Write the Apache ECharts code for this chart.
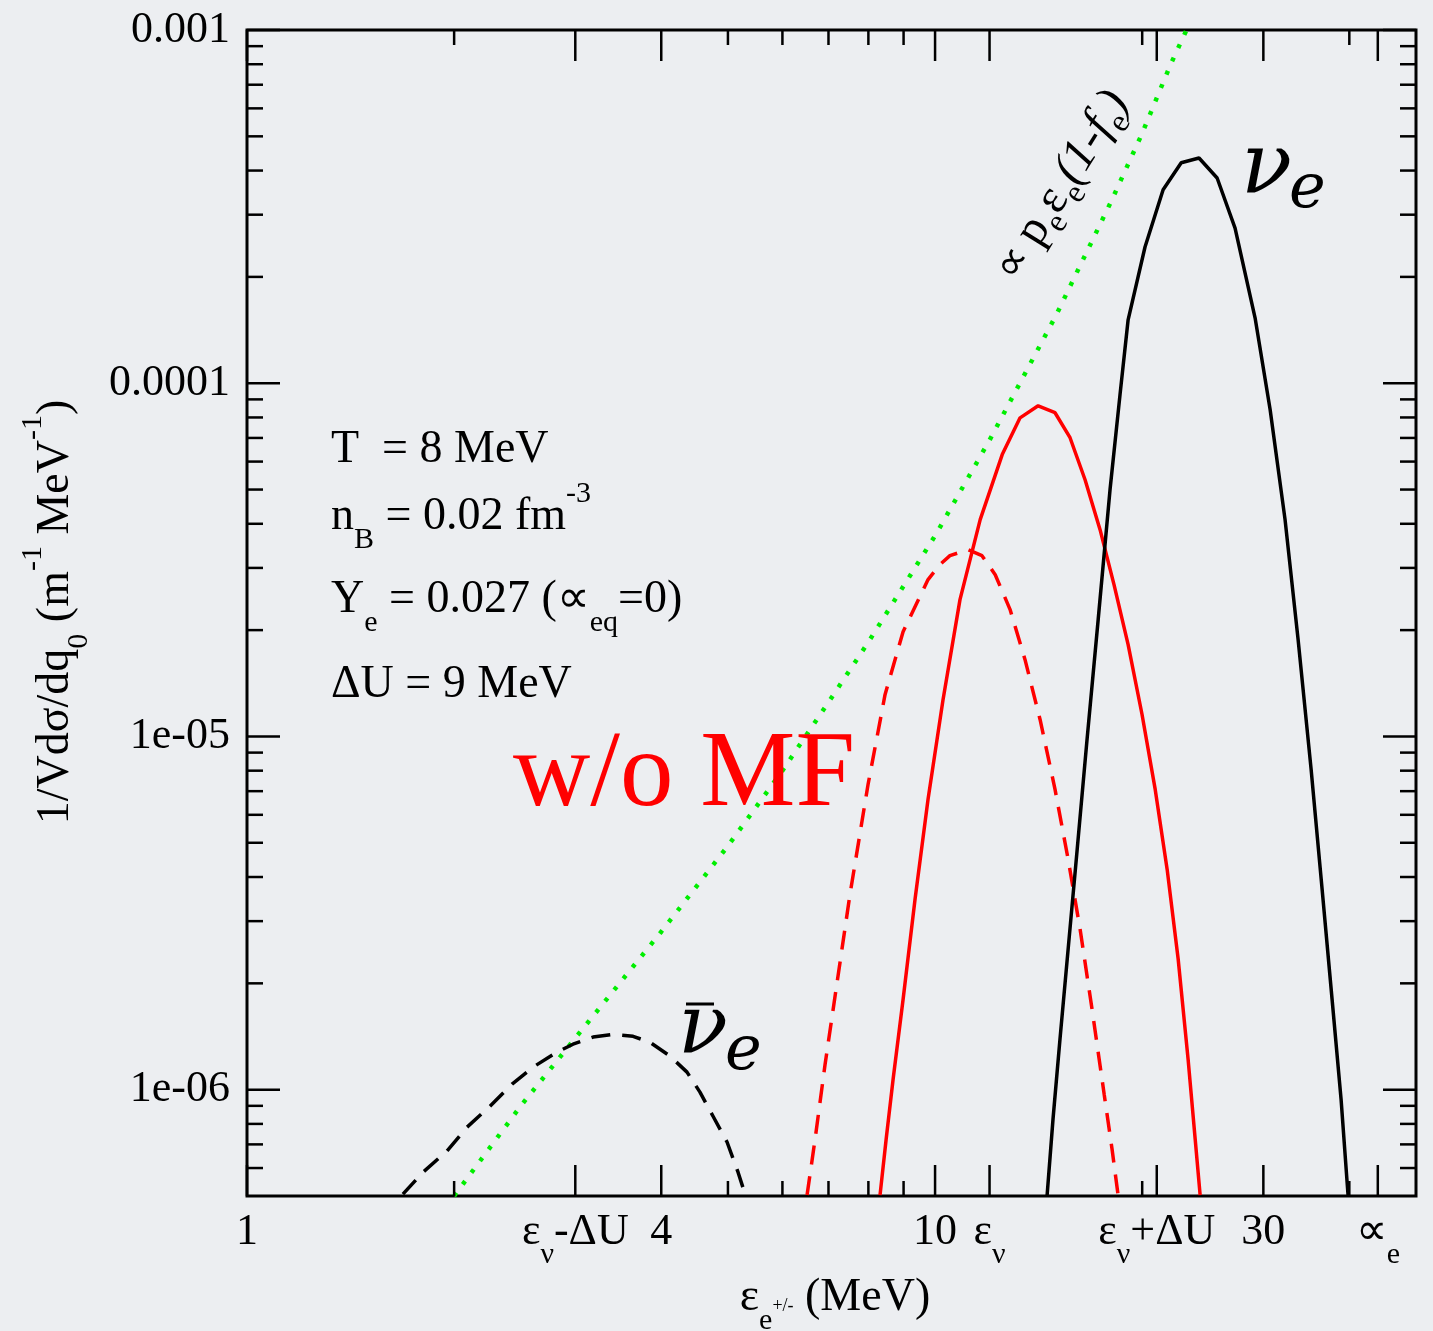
<!DOCTYPE html>
<html>
<head>
<meta charset="utf-8">
<script src="https://cdn.jsdelivr.net/npm/echarts@6/dist/echarts.min.js"></script>
<style>
html,body{margin:0;padding:0;background:#eceef1;}
#c{width:1433px;height:1331px;}
</style>
</head>
<body>
<div id="c"></div>
<script>
// ---------- axis ranges & ticks ----------
const X_MIN = 1, X_MAX = 50, Y_MIN = 5e-7, Y_MAX = 1e-3;
const xMajorTicks = [1, 3, 4, 10, 12, 21, 30, 44];
const xMinorTicks = [2, 5, 6, 7, 8, 9, 20, 40];
const xTickLabels = ['{m|1}', '{m|ε}{s|ν}{m|-ΔU}', '{m|4}', '{m|10}', '{m|ε}{s|ν}', '{m|ε}{s|ν}{m|+ΔU}', '{m|30}', '{m|∝}{s|e}'];
const yMajorTicks = [1e-6, 1e-5, 1e-4, 1e-3];
const yTickLabels = ['1e-06', '1e-05', '0.0001', '0.001'];
const yMinorTicks = [6e-7, 7e-7, 8e-7, 9e-7,
  2e-6, 3e-6, 4e-6, 5e-6, 6e-6, 7e-6, 8e-6, 9e-6,
  2e-5, 3e-5, 4e-5, 5e-5, 6e-5, 7e-5, 8e-5, 9e-5,
  2e-4, 3e-4, 4e-4, 5e-4, 6e-4, 7e-4, 8e-4, 9e-4];

// ---------- curves ----------
// green dotted: ∝ p_e ε_e (1-f_e)
const greenX = [2.0, 2.5, 3.0, 4.0, 5.0, 6.0, 7.0, 8.0, 10, 12, 15, 18, 20, 22, 23.2];
const greenY = [5.0e-7, 9.0e-7, 1.4e-6, 2.8e-6, 4.9e-6, 8.0e-6, 1.25e-5, 1.85e-5, 3.7e-5, 6.9e-5, 1.56e-4, 3.25e-4, 5.1e-4, 8.0e-4, 1.0e-3];

// black dashed: anti-nu_e
const antiNuX = [1.685, 1.803, 1.952, 2.088, 2.255, 2.428, 2.604, 2.822, 2.977, 3.184, 3.404, 3.64, 3.853, 4.12, 4.36, 4.553, 4.757, 4.985, 5.172, 5.295];
const antiNuY = [5.06e-7, 5.84e-7, 6.70e-7, 7.83e-7, 8.98e-7, 1.037e-6, 1.158e-6, 1.277e-6, 1.345e-6, 1.409e-6, 1.435e-6, 1.416e-6, 1.362e-6, 1.244e-6, 1.121e-6, 9.84e-7, 8.41e-7, 7.11e-7, 5.84e-7, 5.06e-7];

// red dashed: anti-nu_e w/o MF
const antiNuNoMFX = [6.516, 6.693, 6.921, 7.180, 7.522, 7.991, 8.460, 8.985, 9.768, 10.17, 10.51, 11.17, 11.70, 12.23, 12.85, 13.51, 14.21, 14.94, 15.61, 16.25, 16.91, 17.61, 18.08, 18.45];
const antiNuNoMFY = [5.03e-7, 7.24e-7, 1.18e-6, 1.923e-6, 3.57e-6, 7.31e-6, 1.315e-5, 1.98e-5, 2.78e-5, 3.07e-5, 3.25e-5, 3.38e-5, 3.25e-5, 2.87e-5, 2.29e-5, 1.652e-5, 1.117e-5, 7.08e-6, 4.49e-6, 2.84e-6, 1.69e-6, 9.71e-7, 6.79e-7, 5.03e-7];

// red solid: nu_e w/o MF
const nuNoMFX = [8.318, 8.490, 8.690, 8.985, 9.352, 9.768, 10.27, 10.87, 11.63, 12.52, 13.29, 14.12, 14.94, 15.71, 16.52, 17.37, 18.20, 19.08, 19.99, 20.89, 21.74, 22.56, 23.32, 23.88, 24.28];
const nuNoMFY = [5.03e-7, 7.24e-7, 1.07e-6, 1.80e-6, 3.46e-6, 6.64e-6, 1.27e-5, 2.44e-5, 4.11e-5, 6.28e-5, 7.98e-5, 8.63e-5, 8.25e-5, 7.01e-5, 5.33e-5, 3.85e-5, 2.69e-5, 1.82e-5, 1.154e-5, 7.08e-6, 4.21e-6, 2.34e-6, 1.22e-6, 7.24e-7, 5.03e-7];

// black solid: nu_e
const nuX = [14.55, 14.84, 15.19, 15.61, 16.09, 16.63, 17.26, 17.96, 18.57, 19.08, 20.19, 21.45, 22.79, 24.19, 25.70, 27.29, 29.18, 30.69, 32.26, 33.70, 35.20, 36.52, 37.76, 38.91, 39.83];
const nuY = [5.03e-7, 8.26e-7, 1.39e-6, 2.50e-6, 4.79e-6, 9.81e-6, 2.14e-5, 5.00e-5, 9.28e-5, 1.512e-4, 2.43e-4, 3.53e-4, 4.21e-4, 4.34e-4, 3.81e-4, 2.75e-4, 1.532e-4, 8.41e-5, 4.11e-5, 1.88e-5, 8.07e-6, 3.69e-6, 1.80e-6, 9.40e-7, 5.03e-7];

// ---------- helpers ----------
const SERIF = '"Liberation Serif","Times New Roman",serif';
const zip = (xs, ys) => xs.map((x, i) => [x, ys[i]]);

function richSet(main, sub) {
  return {
    m: { fontSize: main, fontFamily: SERIF, lineHeight: 76, fill: '#000' },
    s: { fontSize: sub, fontFamily: SERIF, verticalAlign: 'bottom', fill: '#000' },
    p: { fontSize: sub, fontFamily: SERIF, verticalAlign: 'top', fill: '#000' }
  };
}

function xTickSeries(values, len) {
  return {
    type: 'custom', silent: true, z: 10,
    data: values.map(v => [v, Y_MIN]),
    renderItem: function (params, api) {
      const v = api.value(0);
      const b = api.coord([v, Y_MIN]);
      const t = api.coord([v, Y_MAX]);
      return { type: 'group', children: [
        { type: 'line', shape: { x1: b[0], y1: b[1], x2: b[0], y2: b[1] - len }, style: { stroke: '#000', lineWidth: 2.5 } },
        { type: 'line', shape: { x1: t[0], y1: t[1], x2: t[0], y2: t[1] + len }, style: { stroke: '#000', lineWidth: 2.5 } }
      ] };
    }
  };
}
function yTickSeries(values, len) {
  return {
    type: 'custom', silent: true, z: 10,
    data: values.map(v => [X_MIN, v]),
    renderItem: function (params, api) {
      const v = api.value(1);
      const l = api.coord([X_MIN, v]);
      const r = api.coord([X_MAX, v]);
      return { type: 'group', children: [
        { type: 'line', shape: { x1: l[0], y1: l[1], x2: l[0] + len, y2: l[1] }, style: { stroke: '#000', lineWidth: 2.5 } },
        { type: 'line', shape: { x1: r[0], y1: r[1], x2: r[0] - len, y2: r[1] }, style: { stroke: '#000', lineWidth: 2.5 } }
      ] };
    }
  };
}

const xLabelSeries = {
  type: 'custom', silent: true, z: 10,
  data: xMajorTicks.map(v => [v, Y_MIN]),
  renderItem: function (params, api) {
    const p = api.coord([api.value(0), Y_MIN]);
    return { type: 'text', x: p[0], y: p[1] + 36,
      style: { text: xTickLabels[params.dataIndex], rich: richSet(44, 30), align: 'center', verticalAlign: 'middle', fill: '#000' } };
  }
};
const yLabelSeries = {
  type: 'custom', silent: true, z: 10,
  data: yMajorTicks.map(v => [X_MIN, v]),
  renderItem: function (params, api) {
    const p = api.coord([X_MIN, api.value(1)]);
    return { type: 'text', x: p[0] - 17, y: p[1],
      style: { text: yTickLabels[params.dataIndex], fontSize: 44, fontFamily: SERIF, align: 'right', verticalAlign: 'middle', fill: '#000' } };
  }
};

function rt(text, x, y, opts) {
  opts = opts || {};
  return {
    type: 'text', x: x, y: y, rotation: opts.rotation || 0, z: 20,
    style: Object.assign({
      text: text, rich: opts.rich || richSet(46, 30),
      align: opts.align || 'left', verticalAlign: 'middle', fill: opts.fill || '#000'
    }, opts.style || {})
  };
}

const xTitleRich = Object.assign(richSet(46, 30), {
  q: { fontSize: 18, fontFamily: SERIF, verticalAlign: 'bottom', height: 59, fill: '#000' }
});
const greenRich = {
  a: { fontSize: 44, fontFamily: SERIF, lineHeight: 64, fill: '#000' },
  m: { fontSize: 48, fontFamily: SERIF, lineHeight: 64, fill: '#000' },
  i: { fontSize: 48, fontFamily: SERIF, fontStyle: 'italic', lineHeight: 64, fill: '#000' },
  s: { fontSize: 32, fontFamily: SERIF, verticalAlign: 'bottom', fill: '#000' }
};
const NU_FONT = '"DejaVu Serif",serif';

const option = {
  backgroundColor: '#eceef1',
  animation: false,
  grid: { left: 247, top: 30, width: 1169, height: 1166, show: true, borderColor: '#000', borderWidth: 3, backgroundColor: 'transparent' },
  xAxis: { type: 'log', logBase: 10, min: X_MIN, max: X_MAX,
    axisLine: { show: false }, axisTick: { show: false }, axisLabel: { show: false }, splitLine: { show: false }, minorTick: { show: false } },
  yAxis: { type: 'log', logBase: 10, min: Y_MIN, max: Y_MAX,
    axisLine: { show: false }, axisTick: { show: false }, axisLabel: { show: false }, splitLine: { show: false }, minorTick: { show: false } },
  series: [
    { type: 'line', data: zip(greenX, greenY), symbol: 'none', z: 3,
      lineStyle: { color: '#00ee00', width: 4.5, type: [4, 10.5] } },
    { type: 'line', data: zip(antiNuX, antiNuY), symbol: 'none', z: 4,
      lineStyle: { color: '#000', width: 3.5, type: [19, 12] } },
    { type: 'line', data: zip(antiNuNoMFX, antiNuNoMFY), symbol: 'none', z: 4,
      lineStyle: { color: '#ff0000', width: 3.5, type: [19, 12] } },
    { type: 'line', data: zip(nuNoMFX, nuNoMFY), symbol: 'none', z: 4,
      lineStyle: { color: '#ff0000', width: 3.5 } },
    { type: 'line', data: zip(nuX, nuY), symbol: 'none', z: 4,
      lineStyle: { color: '#000', width: 3.5 } },
    xTickSeries(xMajorTicks, 31),
    xTickSeries(xMinorTicks, 15),
    yTickSeries(yMajorTicks, 33),
    yTickSeries(yMinorTicks, 16),
    xLabelSeries,
    yLabelSeries
  ],
  graphic: [
    rt('{m|ε}{s|e}{q|+/-}{m| (MeV)}', 835, 1298, { align: 'center', rich: xTitleRich }),
    rt('{m|1/Vdσ/dq}{s|0}{m| (m}{p|-1}{m| MeV}{p|-1}{m|)}', 56, 612, { align: 'center', rotation: Math.PI / 2 }),
    rt('{m|T  = 8 MeV}', 331, 450),
    rt('{m|n}{s|B}{m| = 0.02 fm}{p|-3}', 331, 517),
    rt('{m|Y}{s|e}{m| = 0.027 (∝}{s|eq}{m|=0)}', 331, 600),
    rt('{m|ΔU = 9 MeV}', 331, 685),
    { type: 'text', x: 513, y: 777, z: 20,
      style: { text: 'w/o MF', fontSize: 107, fontFamily: SERIF, fill: '#ff0000', align: 'left', verticalAlign: 'middle' } },
    { type: 'text', x: 1241, y: 170, z: 20,
      style: { text: 'ν', fontSize: 84, fontFamily: NU_FONT, fontStyle: 'italic', fill: '#000', align: 'left', verticalAlign: 'middle' } },
    { type: 'text', x: 1289, y: 191, z: 20,
      style: { text: 'e', fontSize: 62, fontFamily: NU_FONT, fontStyle: 'italic', fill: '#000', align: 'left', verticalAlign: 'middle' } },
    { type: 'text', x: 678, y: 1032, z: 20,
      style: { text: 'ν', fontSize: 82, fontFamily: NU_FONT, fontStyle: 'italic', fill: '#000', align: 'left', verticalAlign: 'middle' } },
    { type: 'line', z: 20, shape: { x1: 686, y1: 1004, x2: 714, y2: 1004 }, style: { stroke: '#000', lineWidth: 3 } },
    { type: 'text', x: 725, y: 1053, z: 20,
      style: { text: 'e', fontSize: 62, fontFamily: NU_FONT, fontStyle: 'italic', fill: '#000', align: 'left', verticalAlign: 'middle' } },
    rt('{a|∝ }{m|p}{s|e}{m|ε}{s|e}{i|(1-f}{s|e}{i|)}', 1062, 186, { align: 'center', rotation: 58 * Math.PI / 180, rich: greenRich })
  ]
};

const chart = echarts.init(document.getElementById('c'), null, { renderer: 'canvas' });
chart.setOption(option);
</script>
</body>
</html>
